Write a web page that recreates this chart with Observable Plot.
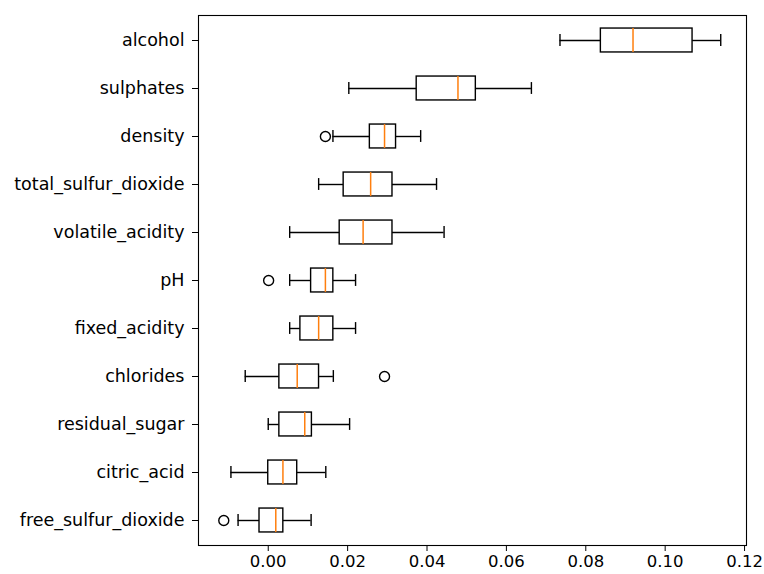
<!DOCTYPE html>
<html>
<head>
<meta charset="utf-8">
<script src="https://cdn.jsdelivr.net/npm/d3@7"></script>
<script src="https://cdn.jsdelivr.net/npm/@observablehq/plot@0.6"></script>
<style>
  html, body { margin: 0; padding: 0; background: #fff; }
  #chart svg { display: block; }
</style>
</head>
<body>
<div id="chart"></div>
<script>
const features = ["alcohol", "sulphates", "density", "total_sulfur_dioxide", "volatile_acidity", "pH", "fixed_acidity", "chlorides", "residual_sugar", "citric_acid", "free_sulfur_dioxide"];
const whiskerLow  = [0.0735, 0.0203, 0.0163, 0.0127, 0.0054, 0.0054, 0.0054, -0.0058, 0.0000, -0.0094, -0.0076];
const q1          = [0.0838, 0.0374, 0.0256, 0.0190, 0.0180, 0.0108, 0.0081, 0.0028, 0.0028, 0.0000, -0.0022];
const medians     = [0.0919, 0.0478, 0.0293, 0.0258, 0.0239, 0.0144, 0.0127, 0.0073, 0.0092, 0.0037, 0.0019];
const q3          = [0.1069, 0.0523, 0.0322, 0.0313, 0.0313, 0.0164, 0.0164, 0.0128, 0.0110, 0.0073, 0.0038];
const whiskerHigh = [0.1140, 0.0663, 0.0384, 0.0424, 0.0443, 0.0220, 0.0220, 0.0164, 0.0205, 0.0145, 0.0108];
const outlierFeatures = ["density", "pH", "chlorides", "free_sulfur_dioxide"];
const outlierValues   = [0.0144, 0.0001, 0.0293, -0.0112];
const xTicks = [0.00, 0.02, 0.04, 0.06, 0.08, 0.10, 0.12];

const rows = features.map((f, i) => ({
  feature: f, lo: whiskerLow[i], q1: q1[i], med: medians[i], q3: q3[i], hi: whiskerHigh[i]
}));
const outliers = outlierFeatures.map((f, i) => ({feature: f, value: outlierValues[i]}));

const W = 764, H = 574;
const mTop = 15, mBottom = 29;
const band = (H - mTop - mBottom) / features.length;
const boxInset = band * 0.25;
const capInset = band * 0.375;

const chart = Plot.plot({
  width: W,
  height: H,
  marginLeft: 198,
  marginRight: 18,
  marginTop: mTop,
  marginBottom: mBottom,
  style: {fontFamily: "DejaVu Sans", fontSize: "16px", color: "#000", background: "#fff"},
  x: {domain: [-0.01757, 0.12049]},
  y: {domain: features, padding: 0},
  marks: [
    Plot.axisX({ticks: xTicks, tickFormat: d3.format(".2f"), label: null, tickSize: 6, tickPadding: 4, fontSize: 16.5, stroke: "#000"}),
    Plot.axisY({label: null, tickSize: 6, tickPadding: 8, fontSize: 17.5, stroke: "#000"}),
    Plot.ruleY(rows, {y: "feature", x1: "lo", x2: "q1", stroke: "#000", strokeWidth: 1.4}),
    Plot.ruleY(rows, {y: "feature", x1: "q3", x2: "hi", stroke: "#000", strokeWidth: 1.4}),
    Plot.tickX(rows, {y: "feature", x: "lo", stroke: "#000", strokeWidth: 1.4, insetTop: capInset, insetBottom: capInset}),
    Plot.tickX(rows, {y: "feature", x: "hi", stroke: "#000", strokeWidth: 1.4, insetTop: capInset, insetBottom: capInset}),
    Plot.barX(rows, {y: "feature", x1: "q1", x2: "q3", fill: "#fff", stroke: "#000", strokeWidth: 1.4, insetTop: boxInset, insetBottom: boxInset}),
    Plot.tickX(rows, {y: "feature", x: "med", stroke: "#ff7f0e", strokeWidth: 1.5, insetTop: boxInset, insetBottom: boxInset}),
    Plot.dot(outliers, {y: "feature", x: "value", r: 5, stroke: "#000", fill: "none", strokeWidth: 1.4}),
    Plot.frame({stroke: "#000", strokeWidth: 1.1})
  ]
});
document.getElementById("chart").appendChild(chart);
</script>
</body>
</html>
